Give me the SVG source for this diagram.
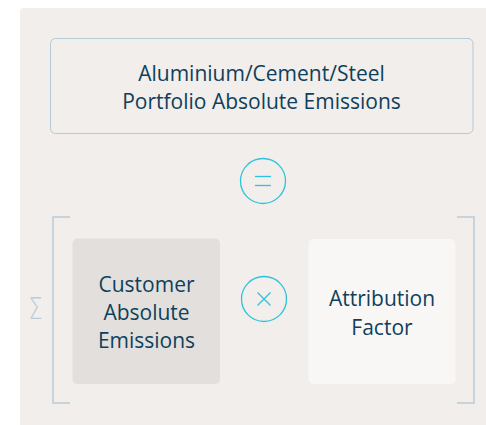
<svg xmlns="http://www.w3.org/2000/svg" width="486" height="425" viewBox="0 0 486 425">
<style>
.t{font-family:"Open Sans","Noto Sans",sans-serif;font-size:21px;fill:#0f3f5c;text-anchor:middle}
.op{fill:none;stroke:#2cc3dc;stroke-width:1.3}
.br{fill:none;stroke:#b9cbd8;stroke-width:1.5}
</style>
<rect width="486" height="425" fill="#ffffff"/>
<path d="M24 8 H486 V425 H20 V12 Q20 8 24 8 Z" fill="#f1eeeb"/>
<g id="total">
<rect x="50.5" y="38.5" width="422.5" height="95" rx="5" fill="#f1eeeb" stroke="#b5c9d6" stroke-width="1"/>
<text class="t" x="261.5" y="81">Aluminium/Cement/Steel</text>
<text class="t" x="261.5" y="109">Portfolio Absolute Emissions</text>
</g>
<g id="equals">
<circle class="op" cx="263" cy="181" r="22.5"/>
<line class="op" x1="255" y1="176.5" x2="271" y2="176.5"/>
<line class="op" x1="255" y1="185.5" x2="271" y2="185.5"/>
</g>
<g id="bracket">
<polyline class="br" points="70,217 53,217 53,403 70,403"/>
<polyline class="br" points="457,217 474,217 474,403 457,403"/>
<text transform="translate(35.5 319) scale(0.72 1)" x="0" y="0" font-family="DejaVu Sans,sans-serif" font-size="31" font-weight="200" fill="#bccbd6" text-anchor="middle">Σ</text>
</g>
<g id="customer">
<rect x="72.5" y="238.5" width="147.5" height="145.5" rx="5" fill="#e2dfdc"/>
<text class="t" x="146.5" y="291.5">Customer</text>
<text class="t" x="146.5" y="319.5">Absolute</text>
<text class="t" x="146.5" y="347.5">Emissions</text>
</g>
<g id="times">
<circle class="op" cx="264" cy="299" r="22.5"/>
<line class="op" x1="257.5" y1="292.5" x2="270.5" y2="305.5"/>
<line class="op" x1="270.5" y1="292.5" x2="257.5" y2="305.5"/>
</g>
<g id="attribution">
<rect x="308.5" y="239" width="147" height="145" rx="5" fill="#f8f7f6"/>
<text class="t" x="382" y="306">Attribution</text>
<text class="t" x="382" y="334.5">Factor</text>
</g>
</svg>
